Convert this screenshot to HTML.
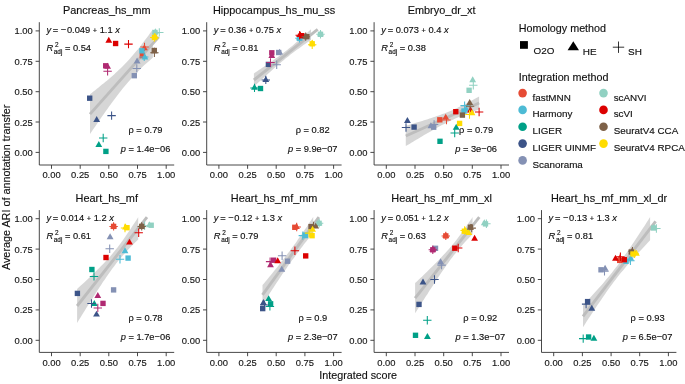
<!DOCTYPE html>
<html><head><meta charset="utf-8"><title>chart</title>
<style>
html,body{margin:0;padding:0;background:#fff;}
body{width:685px;height:384px;overflow:hidden;}
svg{display:block;will-change:transform;font-family:"Liberation Sans",sans-serif;fill:#1a1a1a;}
text{stroke:#111;stroke-width:0.15px;}
.tk{font-size:9.4px;fill:#1a1a1a;}
.ti{font-size:10.75px;fill:#111;}
.pt{font-size:10.9px;fill:#111;}
.an{font-size:9.3px;fill:#111;}
.ax{stroke:#333;stroke-width:0.9;fill:none;}
.lg{font-size:9.85px;fill:#111;}
</style></head><body>
<svg width="685" height="384" viewBox="0 0 685 384">
<rect width="685" height="384" fill="#fff"/>
<g><!-- Pancreas_hs_mm -->
<path d="M90.0 94.2L91.7 92.9L93.4 91.5L95.2 90.2L96.9 88.8L98.6 87.4L100.3 86.0L102.0 84.6L103.8 83.2L105.5 81.8L107.2 80.4L108.9 78.9L110.6 77.4L112.4 75.9L114.1 74.4L115.8 72.8L117.5 71.2L119.2 69.6L121.0 67.9L122.7 66.2L124.4 64.5L126.1 62.7L127.8 60.9L129.6 59.0L131.3 57.1L133.0 55.1L134.7 53.1L136.4 51.0L138.2 48.9L139.9 46.7L141.6 44.6L143.3 42.3L145.0 40.1L146.8 37.8L148.5 35.5L150.2 33.1L151.9 30.7L152.9 29.3L152.9 57.5L151.9 58.4L150.2 59.9L148.5 61.4L146.8 63.0L145.0 64.5L143.3 66.1L141.6 67.8L139.9 69.4L138.2 71.2L136.4 72.9L134.7 74.7L133.0 76.6L131.3 78.4L129.6 80.4L127.8 82.4L126.1 84.4L124.4 86.5L122.7 88.6L121.0 90.8L119.2 93.0L117.5 95.2L115.8 97.5L114.1 99.8L112.4 102.1L110.6 104.4L108.9 106.8L107.2 109.2L105.5 111.6L103.8 114.1L102.0 116.5L100.3 119.0L98.6 121.5L96.9 124.0L95.2 126.5L93.4 129.0L91.7 131.5L90.0 134.0Z" fill="#999" fill-opacity="0.4"/>
<path d="M90.0 114.1L158.8 36.9" stroke="#BDBDBD" stroke-width="2.9" fill="none"/>
<rect x="139.62" y="52.92" width="5.36" height="5.36" fill="#E64B35"/>
<path d="M144.40 44.35L147.82 50.27L140.98 50.27Z" fill="#E64B35"/>
<path d="M140.30 46.90H148.70M144.50 42.70V51.10" stroke="#E64B35" stroke-width="1.05" fill="none"/>
<rect x="139.22" y="48.12" width="5.36" height="5.36" fill="#4DBBD5"/>
<path d="M144.90 53.45L148.32 59.38L141.48 59.38Z" fill="#4DBBD5"/>
<path d="M140.00 56.90H148.40M144.20 52.70V61.10" stroke="#4DBBD5" stroke-width="1.05" fill="none"/>
<path d="M99.00 138.00H107.40M103.20 133.80V142.20" stroke="#00A087" stroke-width="1.05" fill="none"/>
<path d="M98.80 141.05L102.22 146.97L95.38 146.97Z" fill="#00A087"/>
<rect x="103.22" y="148.72" width="5.36" height="5.36" fill="#00A087"/>
<rect x="87.02" y="95.52" width="5.36" height="5.36" fill="#3C5488"/>
<path d="M96.70 115.95L100.12 121.88L93.28 121.88Z" fill="#3C5488"/>
<path d="M107.40 115.60H115.80M111.60 111.40V119.80" stroke="#3C5488" stroke-width="1.05" fill="none"/>
<path d="M137.10 57.55L140.52 63.48L133.68 63.48Z" fill="#8491B4"/>
<path d="M132.60 68.40H141.00M136.80 64.20V72.60" stroke="#8491B4" stroke-width="1.05" fill="none"/>
<rect x="131.62" y="73.02" width="5.36" height="5.36" fill="#8491B4"/>
<rect x="103.02" y="63.12" width="5.36" height="5.36" fill="#B02A72"/>
<path d="M107.60 62.85L111.02 68.77L104.18 68.77Z" fill="#B02A72"/>
<path d="M103.40 71.30H111.80M107.60 67.10V75.50" stroke="#B02A72" stroke-width="1.05" fill="none"/>
<rect x="152.32" y="29.82" width="5.36" height="5.36" fill="#91D1C2"/>
<path d="M155.40 28.15L158.82 34.08L151.98 34.08Z" fill="#91D1C2"/>
<path d="M155.10 32.40H163.50M159.30 28.20V36.60" stroke="#91D1C2" stroke-width="1.05" fill="none"/>
<path d="M108.80 36.85L112.22 42.77L105.38 42.77Z" fill="#DC0000"/>
<rect x="112.92" y="40.82" width="5.36" height="5.36" fill="#DC0000"/>
<path d="M124.30 44.10H132.70M128.50 39.90V48.30" stroke="#DC0000" stroke-width="1.05" fill="none"/>
<rect x="151.62" y="47.82" width="5.36" height="5.36" fill="#7E6148"/>
<path d="M154.40 47.35L157.82 53.27L150.98 53.27Z" fill="#7E6148"/>
<path d="M150.20 52.80H158.60M154.40 48.60V57.00" stroke="#7E6148" stroke-width="1.05" fill="none"/>
<rect x="151.82" y="34.82" width="5.36" height="5.36" fill="#FFDC00"/>
<path d="M155.00 32.85L158.42 38.77L151.58 38.77Z" fill="#FFDC00"/>
<path d="M150.10 37.50H158.50M154.30 33.30V41.70" stroke="#FFDC00" stroke-width="1.05" fill="none"/>
<path class="ax" d="M39.3 22.2V165.0H174.2"/>
<path class="ax" d="M35.6 152.4H39.3M51.5 165.0V168.8M35.6 122.0H39.3M80.2 165.0V168.8M35.6 91.7H39.3M108.8 165.0V168.8M35.6 61.3H39.3M137.5 165.0V168.8M35.6 30.9H39.3M166.2 165.0V168.8"/>
<text class="tk" x="32.7" y="156" text-anchor="end">0.00</text>
<text class="tk" x="51.5" y="178" text-anchor="middle">0.00</text>
<text class="tk" x="32.7" y="126" text-anchor="end">0.25</text>
<text class="tk" x="80.2" y="178" text-anchor="middle">0.25</text>
<text class="tk" x="32.7" y="95" text-anchor="end">0.50</text>
<text class="tk" x="108.8" y="178" text-anchor="middle">0.50</text>
<text class="tk" x="32.7" y="65" text-anchor="end">0.75</text>
<text class="tk" x="137.5" y="178" text-anchor="middle">0.75</text>
<text class="tk" x="32.7" y="34" text-anchor="end">1.00</text>
<text class="tk" x="166.2" y="178" text-anchor="middle">1.00</text>
<text class="pt" x="106.8" y="14.3" text-anchor="middle">Pancreas_hs_mm</text>
<text class="an" x="46.4" y="33.4"><tspan font-style="italic">y</tspan><tspan dx="-0.8"> = </tspan>−<tspan dx="0.6">0.049</tspan> <tspan font-size="7.4" dy="-0.5">+</tspan><tspan dy="0.5"> 1.1 </tspan><tspan font-style="italic">x</tspan></text>
<text class="an" x="46.4" y="51.2"><tspan font-style="italic">R</tspan><tspan font-size="6.4" dy="-4.4" dx="1.8">2</tspan><tspan font-size="6.4" dy="7.4" dx="-4.7">adj</tspan><tspan dy="-3.0" dx="0"> = 0.54</tspan></text>
<text class="an" x="145.5" y="133" text-anchor="middle">ρ = 0.79</text>
<text class="an" x="145.5" y="152" text-anchor="middle"><tspan font-style="italic">p</tspan> = 1.4e−06</text>
</g>
<g><!-- Hippocampus_hs_mu_ss -->
<path d="M253.9 73.4L255.6 72.3L257.2 71.2L258.9 70.1L260.6 69.0L262.2 67.8L263.9 66.7L265.6 65.6L267.2 64.5L268.9 63.3L270.6 62.2L272.2 61.0L273.9 59.8L275.5 58.6L277.2 57.5L278.9 56.2L280.5 55.0L282.2 53.8L283.9 52.5L285.5 51.2L287.2 49.9L288.9 48.6L290.5 47.2L292.2 45.9L293.9 44.5L295.5 43.1L297.2 41.6L298.9 40.2L300.5 38.8L302.2 37.3L303.8 35.8L305.5 34.3L307.2 32.8L308.8 31.3L310.5 29.8L311.0 29.3L311.0 39.9L310.5 40.3L308.8 41.4L307.2 42.5L305.5 43.7L303.8 44.8L302.2 46.0L300.5 47.2L298.9 48.4L297.2 49.6L295.5 50.8L293.9 52.0L292.2 53.3L290.5 54.6L288.9 55.9L287.2 57.2L285.5 58.5L283.9 59.9L282.2 61.3L280.5 62.7L278.9 64.1L277.2 65.5L275.5 67.0L273.9 68.4L272.2 69.9L270.6 71.4L268.9 72.9L267.2 74.4L265.6 75.9L263.9 77.4L262.2 78.9L260.6 80.5L258.9 82.0L257.2 83.6L255.6 85.1L253.9 86.6Z" fill="#999" fill-opacity="0.4"/>
<path d="M253.9 80.0L317.7 29.3" stroke="#BDBDBD" stroke-width="2.9" fill="none"/>
<rect x="297.82" y="33.62" width="5.36" height="5.36" fill="#E64B35"/>
<path d="M300.50 32.35L303.92 38.27L297.08 38.27Z" fill="#E64B35"/>
<path d="M296.30 36.30H304.70M300.50 32.10V40.50" stroke="#E64B35" stroke-width="1.05" fill="none"/>
<rect x="296.82" y="35.52" width="5.36" height="5.36" fill="#4DBBD5"/>
<path d="M299.50 34.25L302.92 40.18L296.08 40.18Z" fill="#4DBBD5"/>
<path d="M295.30 38.20H303.70M299.50 34.00V42.40" stroke="#4DBBD5" stroke-width="1.05" fill="none"/>
<path d="M254.50 83.75L257.92 89.67L251.08 89.67Z" fill="#00A087"/>
<path d="M250.30 87.90H258.70M254.50 83.70V92.10" stroke="#00A087" stroke-width="1.05" fill="none"/>
<rect x="257.82" y="85.82" width="5.36" height="5.36" fill="#00A087"/>
<rect x="265.72" y="61.72" width="5.36" height="5.36" fill="#3C5488"/>
<path d="M265.80 75.95L269.22 81.88L262.38 81.88Z" fill="#3C5488"/>
<path d="M261.60 79.90H270.00M265.80 75.70V84.10" stroke="#3C5488" stroke-width="1.05" fill="none"/>
<rect x="276.02" y="49.82" width="5.36" height="5.36" fill="#8491B4"/>
<path d="M279.60 48.65L283.02 54.58L276.18 54.58Z" fill="#8491B4"/>
<path d="M272.50 64.80H280.90M276.70 60.60V69.00" stroke="#8491B4" stroke-width="1.05" fill="none"/>
<rect x="269.12" y="50.12" width="5.36" height="5.36" fill="#B02A72"/>
<path d="M271.80 52.05L275.22 57.98L268.38 57.98Z" fill="#B02A72"/>
<path d="M266.30 62.50H274.70M270.50 58.30V66.70" stroke="#B02A72" stroke-width="1.05" fill="none"/>
<rect x="317.82" y="31.62" width="5.36" height="5.36" fill="#91D1C2"/>
<path d="M320.50 30.35L323.92 36.27L317.08 36.27Z" fill="#91D1C2"/>
<path d="M316.30 34.30H324.70M320.50 30.10V38.50" stroke="#91D1C2" stroke-width="1.05" fill="none"/>
<rect x="299.12" y="33.02" width="5.36" height="5.36" fill="#DC0000"/>
<path d="M299.90 31.15L303.32 37.08L296.48 37.08Z" fill="#DC0000"/>
<path d="M295.50 35.20H303.90M299.70 31.00V39.40" stroke="#DC0000" stroke-width="1.05" fill="none"/>
<rect x="304.12" y="33.97" width="5.36" height="5.36" fill="#7E6148"/>
<path d="M305.90 32.75L309.32 38.68L302.48 38.68Z" fill="#7E6148"/>
<path d="M301.50 36.65H309.90M305.70 32.45V40.85" stroke="#7E6148" stroke-width="1.05" fill="none"/>
<rect x="309.52" y="41.12" width="5.36" height="5.36" fill="#FFDC00"/>
<path d="M312.20 39.55L315.62 45.48L308.78 45.48Z" fill="#FFDC00"/>
<path d="M308.00 44.80H316.40M312.20 40.60V49.00" stroke="#FFDC00" stroke-width="1.05" fill="none"/>
<path class="ax" d="M206.7 22.2V165.0H341.6"/>
<path class="ax" d="M203.0 152.4H206.7M218.9 165.0V168.8M203.0 122.0H206.7M247.6 165.0V168.8M203.0 91.7H206.7M276.2 165.0V168.8M203.0 61.3H206.7M304.9 165.0V168.8M203.0 30.9H206.7M333.6 165.0V168.8"/>
<text class="tk" x="200.1" y="156" text-anchor="end">0.00</text>
<text class="tk" x="218.9" y="178" text-anchor="middle">0.00</text>
<text class="tk" x="200.1" y="126" text-anchor="end">0.25</text>
<text class="tk" x="247.6" y="178" text-anchor="middle">0.25</text>
<text class="tk" x="200.1" y="95" text-anchor="end">0.50</text>
<text class="tk" x="276.2" y="178" text-anchor="middle">0.50</text>
<text class="tk" x="200.1" y="65" text-anchor="end">0.75</text>
<text class="tk" x="304.9" y="178" text-anchor="middle">0.75</text>
<text class="tk" x="200.1" y="34" text-anchor="end">1.00</text>
<text class="tk" x="333.6" y="178" text-anchor="middle">1.00</text>
<text class="pt" x="274.1" y="14.3" text-anchor="middle">Hippocampus_hs_mu_ss</text>
<text class="an" x="213.8" y="33.4"><tspan font-style="italic">y</tspan><tspan dx="-0.8"> = </tspan>0.36 <tspan font-size="7.4" dy="-0.5">+</tspan><tspan dy="0.5"> 0.75 </tspan><tspan font-style="italic">x</tspan></text>
<text class="an" x="213.8" y="51.2"><tspan font-style="italic">R</tspan><tspan font-size="6.4" dy="-4.4" dx="1.8">2</tspan><tspan font-size="6.4" dy="7.4" dx="-4.7">adj</tspan><tspan dy="-3.0" dx="0"> = 0.81</tspan></text>
<text class="an" x="312.7" y="133" text-anchor="middle">ρ = 0.82</text>
<text class="an" x="312.7" y="152" text-anchor="middle"><tspan font-style="italic">p</tspan> = 9.9e−07</text>
</g>
<g><!-- Embryo_dr_xt -->
<path d="M405.8 125.8L407.6 125.3L409.5 124.8L411.3 124.2L413.1 123.7L415.0 123.1L416.8 122.6L418.6 122.0L420.5 121.5L422.3 120.9L424.1 120.3L426.0 119.7L427.8 119.2L429.6 118.6L431.5 118.0L433.3 117.3L435.1 116.7L437.0 116.1L438.8 115.4L440.6 114.8L442.4 114.1L444.3 113.4L446.1 112.7L447.9 112.0L449.8 111.2L451.6 110.4L453.4 109.6L455.3 108.8L457.1 108.0L458.9 107.1L460.8 106.3L462.6 105.3L464.4 104.4L466.3 103.5L468.1 102.5L469.9 101.5L471.8 100.6L473.6 99.6L475.4 98.5L477.3 97.5L479.1 96.5L479.1 109.5L477.3 110.1L475.4 110.7L473.6 111.3L471.8 112.0L469.9 112.6L468.1 113.3L466.3 114.0L464.4 114.7L462.6 115.4L460.8 116.2L458.9 117.0L457.1 117.7L455.3 118.6L453.4 119.4L451.6 120.2L449.8 121.1L447.9 122.0L446.1 122.9L444.3 123.9L442.4 124.8L440.6 125.8L438.8 126.8L437.0 127.8L435.1 128.8L433.3 129.8L431.5 130.9L429.6 131.9L427.8 133.0L426.0 134.0L424.1 135.1L422.3 136.2L420.5 137.3L418.6 138.4L416.8 139.5L415.0 140.6L413.1 141.7L411.3 142.8L409.5 143.9L407.6 145.0L405.8 146.1Z" fill="#999" fill-opacity="0.4"/>
<path d="M405.8 136.0L479.1 103.0" stroke="#BDBDBD" stroke-width="2.9" fill="none"/>
<rect x="437.12" y="117.12" width="5.36" height="5.36" fill="#E64B35"/>
<path d="M445.70 113.65L449.12 119.57L442.28 119.57Z" fill="#E64B35"/>
<path d="M442.30 120.00H450.70M446.50 115.80V124.20" stroke="#E64B35" stroke-width="1.05" fill="none"/>
<path d="M460.40 105.60H468.80M464.60 101.40V109.80" stroke="#4DBBD5" stroke-width="1.05" fill="none"/>
<path d="M466.20 105.55L469.62 111.47L462.78 111.47Z" fill="#4DBBD5"/>
<rect x="461.32" y="108.32" width="5.36" height="5.36" fill="#4DBBD5"/>
<path d="M456.20 123.75L459.62 129.68L452.78 129.68Z" fill="#00A087"/>
<path d="M450.50 133.00H458.90M454.70 128.80V137.20" stroke="#00A087" stroke-width="1.05" fill="none"/>
<rect x="437.32" y="138.62" width="5.36" height="5.36" fill="#00A087"/>
<path d="M407.40 117.05L410.82 122.97L403.98 122.97Z" fill="#3C5488"/>
<path d="M401.80 127.50H410.20M406.00 123.30V131.70" stroke="#3C5488" stroke-width="1.05" fill="none"/>
<rect x="411.42" y="124.42" width="5.36" height="5.36" fill="#3C5488"/>
<rect x="431.02" y="124.52" width="5.36" height="5.36" fill="#8491B4"/>
<path d="M430.90 122.35L434.32 128.28L427.48 128.28Z" fill="#8491B4"/>
<path d="M429.90 124.40H438.30M434.10 120.20V128.60" stroke="#8491B4" stroke-width="1.05" fill="none"/>
<path d="M472.70 76.35L476.12 82.27L469.28 82.27Z" fill="#91D1C2"/>
<path d="M469.10 85.30H477.50M473.30 81.10V89.50" stroke="#91D1C2" stroke-width="1.05" fill="none"/>
<rect x="466.42" y="87.62" width="5.36" height="5.36" fill="#91D1C2"/>
<rect x="453.12" y="109.02" width="5.36" height="5.36" fill="#DC0000"/>
<path d="M470.50 106.55L473.92 112.47L467.08 112.47Z" fill="#DC0000"/>
<path d="M474.90 112.00H483.30M479.10 107.80V116.20" stroke="#DC0000" stroke-width="1.05" fill="none"/>
<path d="M469.70 98.95L473.12 104.88L466.28 104.88Z" fill="#7E6148"/>
<path d="M465.80 106.20H474.20M470.00 102.00V110.40" stroke="#7E6148" stroke-width="1.05" fill="none"/>
<rect x="459.72" y="112.42" width="5.36" height="5.36" fill="#7E6148"/>
<path d="M472.00 109.25L475.42 115.17L468.58 115.17Z" fill="#FFDC00"/>
<path d="M465.30 114.50H473.70M469.50 110.30V118.70" stroke="#FFDC00" stroke-width="1.05" fill="none"/>
<rect x="456.92" y="120.72" width="5.36" height="5.36" fill="#FFDC00"/>
<path class="ax" d="M374.1 22.2V165.0H509.0"/>
<path class="ax" d="M370.4 152.4H374.1M386.3 165.0V168.8M370.4 122.0H374.1M415.0 165.0V168.8M370.4 91.7H374.1M443.7 165.0V168.8M370.4 61.3H374.1M472.3 165.0V168.8M370.4 30.9H374.1M501.0 165.0V168.8"/>
<text class="tk" x="367.5" y="156" text-anchor="end">0.00</text>
<text class="tk" x="386.3" y="178" text-anchor="middle">0.00</text>
<text class="tk" x="367.5" y="126" text-anchor="end">0.25</text>
<text class="tk" x="415.0" y="178" text-anchor="middle">0.25</text>
<text class="tk" x="367.5" y="95" text-anchor="end">0.50</text>
<text class="tk" x="443.7" y="178" text-anchor="middle">0.50</text>
<text class="tk" x="367.5" y="65" text-anchor="end">0.75</text>
<text class="tk" x="472.3" y="178" text-anchor="middle">0.75</text>
<text class="tk" x="367.5" y="34" text-anchor="end">1.00</text>
<text class="tk" x="501.0" y="178" text-anchor="middle">1.00</text>
<text class="pt" x="441.6" y="14.3" text-anchor="middle">Embryo_dr_xt</text>
<text class="an" x="381.2" y="33.4"><tspan font-style="italic">y</tspan><tspan dx="-0.8"> = </tspan>0.073 <tspan font-size="7.4" dy="-0.5">+</tspan><tspan dy="0.5"> 0.4 </tspan><tspan font-style="italic">x</tspan></text>
<text class="an" x="381.2" y="51.2"><tspan font-style="italic">R</tspan><tspan font-size="6.4" dy="-4.4" dx="1.8">2</tspan><tspan font-size="6.4" dy="7.4" dx="-4.7">adj</tspan><tspan dy="-3.0" dx="0"> = 0.38</tspan></text>
<text class="an" x="476.1" y="133" text-anchor="middle">ρ = 0.79</text>
<text class="an" x="476.1" y="152" text-anchor="middle"><tspan font-style="italic">p</tspan> = 3e−06</text>
</g>
<g><!-- Heart_hs_mf -->
<path d="M77.1 289.0L78.9 287.3L80.8 285.6L82.6 283.9L84.5 282.2L86.3 280.5L88.2 278.7L90.0 277.0L91.9 275.2L93.7 273.5L95.5 271.7L97.4 269.8L99.2 268.0L101.1 266.1L102.9 264.2L104.8 262.3L106.6 260.3L108.5 258.3L110.3 256.2L112.2 254.0L114.0 251.8L115.8 249.5L117.7 247.2L119.5 244.7L121.4 242.2L123.2 239.7L125.1 237.0L126.9 234.3L128.8 231.6L130.6 228.9L132.4 226.0L134.3 223.2L136.1 220.4L138.0 217.5L138.2 217.1L138.2 239.5L138.0 239.7L136.1 241.5L134.3 243.3L132.4 245.2L130.6 247.1L128.8 249.0L126.9 251.0L125.1 253.0L123.2 255.0L121.4 257.2L119.5 259.4L117.7 261.6L115.8 264.0L114.0 266.4L112.2 268.8L110.3 271.4L108.5 274.0L106.6 276.7L104.8 279.4L102.9 282.1L101.1 284.9L99.2 287.7L97.4 290.6L95.5 293.5L93.7 296.4L91.9 299.3L90.0 302.2L88.2 305.1L86.3 308.1L84.5 311.1L82.6 314.0L80.8 317.0L78.9 320.0L77.1 323.0Z" fill="#999" fill-opacity="0.4"/>
<path d="M77.1 306.0L147.0 217.1" stroke="#BDBDBD" stroke-width="2.9" fill="none"/>
<rect x="110.92" y="223.72" width="5.36" height="5.36" fill="#E64B35"/>
<path d="M113.60 222.45L117.02 228.38L110.18 228.38Z" fill="#E64B35"/>
<path d="M109.40 226.40H117.80M113.60 222.20V230.60" stroke="#E64B35" stroke-width="1.05" fill="none"/>
<path d="M125.00 247.25L128.42 253.17L121.58 253.17Z" fill="#4DBBD5"/>
<path d="M115.80 259.30H124.20M120.00 255.10V263.50" stroke="#4DBBD5" stroke-width="1.05" fill="none"/>
<rect x="125.42" y="255.42" width="5.36" height="5.36" fill="#4DBBD5"/>
<rect x="89.22" y="266.82" width="5.36" height="5.36" fill="#00A087"/>
<path d="M89.80 276.40H98.20M94.00 272.20V280.60" stroke="#00A087" stroke-width="1.05" fill="none"/>
<path d="M94.30 299.95L97.72 305.88L90.88 305.88Z" fill="#00A087"/>
<rect x="74.72" y="290.72" width="5.36" height="5.36" fill="#3C5488"/>
<path d="M87.30 303.50H95.70M91.50 299.30V307.70" stroke="#3C5488" stroke-width="1.05" fill="none"/>
<path d="M96.50 310.65L99.92 316.58L93.08 316.58Z" fill="#3C5488"/>
<path d="M110.10 233.25L113.52 239.17L106.68 239.17Z" fill="#8491B4"/>
<path d="M105.50 248.80H113.90M109.70 244.60V253.00" stroke="#8491B4" stroke-width="1.05" fill="none"/>
<rect x="110.92" y="287.22" width="5.36" height="5.36" fill="#8491B4"/>
<path d="M97.80 292.05L101.22 297.98L94.38 297.98Z" fill="#B02A72"/>
<rect x="100.32" y="300.72" width="5.36" height="5.36" fill="#B02A72"/>
<path d="M93.60 307.90H102.00M97.80 303.70V312.10" stroke="#B02A72" stroke-width="1.05" fill="none"/>
<rect x="148.52" y="222.57" width="5.36" height="5.36" fill="#91D1C2"/>
<path d="M149.40 221.35L152.82 227.28L145.98 227.28Z" fill="#91D1C2"/>
<path d="M140.40 225.80H148.80M144.60 221.60V230.00" stroke="#91D1C2" stroke-width="1.05" fill="none"/>
<path d="M134.50 232.70H142.90M138.70 228.50V236.90" stroke="#DC0000" stroke-width="1.05" fill="none"/>
<path d="M129.50 238.65L132.92 244.57L126.08 244.57Z" fill="#DC0000"/>
<rect x="103.32" y="254.82" width="5.36" height="5.36" fill="#DC0000"/>
<rect x="139.02" y="223.72" width="5.36" height="5.36" fill="#7E6148"/>
<path d="M141.70 222.45L145.12 228.38L138.28 228.38Z" fill="#7E6148"/>
<path d="M137.50 226.40H145.90M141.70 222.20V230.60" stroke="#7E6148" stroke-width="1.05" fill="none"/>
<rect x="124.32" y="225.02" width="5.36" height="5.36" fill="#FFDC00"/>
<path d="M125.50 223.55L128.92 229.47L122.08 229.47Z" fill="#FFDC00"/>
<path d="M120.80 228.00H129.20M125.00 223.80V232.20" stroke="#FFDC00" stroke-width="1.05" fill="none"/>
<path class="ax" d="M39.3 210.1V352.4H174.2"/>
<path class="ax" d="M35.6 340.3H39.3M51.5 352.4V356.2M35.6 309.9H39.3M80.2 352.4V356.2M35.6 279.5H39.3M108.8 352.4V356.2M35.6 249.1H39.3M137.5 352.4V356.2M35.6 218.7H39.3M166.2 352.4V356.2"/>
<text class="tk" x="32.7" y="344" text-anchor="end">0.00</text>
<text class="tk" x="51.5" y="366" text-anchor="middle">0.00</text>
<text class="tk" x="32.7" y="313" text-anchor="end">0.25</text>
<text class="tk" x="80.2" y="366" text-anchor="middle">0.25</text>
<text class="tk" x="32.7" y="283" text-anchor="end">0.50</text>
<text class="tk" x="108.8" y="366" text-anchor="middle">0.50</text>
<text class="tk" x="32.7" y="253" text-anchor="end">0.75</text>
<text class="tk" x="137.5" y="366" text-anchor="middle">0.75</text>
<text class="tk" x="32.7" y="222" text-anchor="end">1.00</text>
<text class="tk" x="166.2" y="366" text-anchor="middle">1.00</text>
<text class="pt" x="106.8" y="202.2" text-anchor="middle">Heart_hs_mf</text>
<text class="an" x="46.4" y="221.2"><tspan font-style="italic">y</tspan><tspan dx="-0.8"> = </tspan>0.014 <tspan font-size="7.4" dy="-0.5">+</tspan><tspan dy="0.5"> 1.2 </tspan><tspan font-style="italic">x</tspan></text>
<text class="an" x="46.4" y="239.2"><tspan font-style="italic">R</tspan><tspan font-size="6.4" dy="-4.4" dx="1.8">2</tspan><tspan font-size="6.4" dy="7.4" dx="-4.7">adj</tspan><tspan dy="-3.0" dx="0"> = 0.61</tspan></text>
<text class="an" x="145.5" y="321" text-anchor="middle">ρ = 0.78</text>
<text class="an" x="145.5" y="340" text-anchor="middle"><tspan font-style="italic">p</tspan> = 1.7e−06</text>
</g>
<g><!-- Heart_hs_mf_mm -->
<path d="M262.5 285.1L263.9 283.4L265.3 281.7L266.8 280.0L268.2 278.2L269.6 276.5L271.1 274.8L272.5 273.0L273.9 271.3L275.3 269.5L276.8 267.7L278.2 265.9L279.6 264.1L281.0 262.3L282.4 260.5L283.9 258.7L285.3 256.8L286.7 254.9L288.1 253.1L289.6 251.2L291.0 249.2L292.4 247.3L293.9 245.3L295.3 243.4L296.7 241.4L298.1 239.3L299.5 237.3L301.0 235.3L302.4 233.2L303.8 231.1L305.2 229.0L306.7 226.9L308.1 224.8L309.5 222.6L310.9 220.5L312.4 218.3L313.2 217.1L313.2 232.8L312.4 233.8L310.9 235.6L309.5 237.3L308.1 239.1L306.7 240.9L305.2 242.8L303.8 244.6L302.4 246.4L301.0 248.3L299.5 250.2L298.1 252.1L296.7 254.0L295.3 255.9L293.9 257.9L292.4 259.8L291.0 261.8L289.6 263.8L288.1 265.8L286.7 267.9L285.3 269.9L283.9 272.0L282.4 274.1L281.0 276.2L279.6 278.3L278.2 280.5L276.8 282.6L275.3 284.7L273.9 286.9L272.5 289.1L271.1 291.3L269.6 293.5L268.2 295.7L266.8 297.9L265.3 300.1L263.9 302.3L262.5 304.5Z" fill="#999" fill-opacity="0.4"/>
<path d="M262.5 294.8L318.9 217.1" stroke="#BDBDBD" stroke-width="2.9" fill="none"/>
<rect x="292.12" y="224.62" width="5.36" height="5.36" fill="#E64B35"/>
<path d="M296.50 223.05L299.92 228.97L293.08 228.97Z" fill="#E64B35"/>
<path d="M292.50 227.00H300.90M296.70 222.80V231.20" stroke="#E64B35" stroke-width="1.05" fill="none"/>
<rect x="302.62" y="232.42" width="5.36" height="5.36" fill="#4DBBD5"/>
<path d="M298.60 235.60H307.00M302.80 231.40V239.80" stroke="#4DBBD5" stroke-width="1.05" fill="none"/>
<path d="M305.00 232.35L308.42 238.28L301.58 238.28Z" fill="#4DBBD5"/>
<path d="M268.60 295.15L272.02 301.08L265.18 301.08Z" fill="#00A087"/>
<rect x="267.92" y="301.12" width="5.36" height="5.36" fill="#00A087"/>
<path d="M265.70 306.40H274.10M269.90 302.20V310.60" stroke="#00A087" stroke-width="1.05" fill="none"/>
<path d="M263.40 299.05L266.82 304.98L259.98 304.98Z" fill="#3C5488"/>
<rect x="260.02" y="305.92" width="5.36" height="5.36" fill="#3C5488"/>
<path d="M260.30 305.00H268.70M264.50 300.80V309.20" stroke="#3C5488" stroke-width="1.05" fill="none"/>
<path d="M277.90 255.70H286.30M282.10 251.50V259.90" stroke="#8491B4" stroke-width="1.05" fill="none"/>
<rect x="284.92" y="258.52" width="5.36" height="5.36" fill="#8491B4"/>
<path d="M281.80 265.85L285.22 271.78L278.38 271.78Z" fill="#8491B4"/>
<rect x="270.92" y="257.52" width="5.36" height="5.36" fill="#B02A72"/>
<path d="M270.50 261.25L273.92 267.18L267.08 267.18Z" fill="#B02A72"/>
<path d="M265.90 261.60H274.30M270.10 257.40V265.80" stroke="#B02A72" stroke-width="1.05" fill="none"/>
<rect x="316.42" y="220.62" width="5.36" height="5.36" fill="#91D1C2"/>
<path d="M319.10 219.35L322.52 225.28L315.68 225.28Z" fill="#91D1C2"/>
<path d="M314.90 223.30H323.30M319.10 219.10V227.50" stroke="#91D1C2" stroke-width="1.05" fill="none"/>
<path d="M290.70 250.70H299.10M294.90 246.50V254.90" stroke="#DC0000" stroke-width="1.05" fill="none"/>
<rect x="303.02" y="253.22" width="5.36" height="5.36" fill="#DC0000"/>
<path d="M277.70 257.25L281.12 263.18L274.28 263.18Z" fill="#DC0000"/>
<rect x="308.32" y="223.92" width="5.36" height="5.36" fill="#7E6148"/>
<path d="M315.70 222.65L319.12 228.57L312.28 228.57Z" fill="#7E6148"/>
<path d="M309.30 226.00H317.70M313.50 221.80V230.20" stroke="#7E6148" stroke-width="1.05" fill="none"/>
<path d="M312.60 225.85L316.02 231.78L309.18 231.78Z" fill="#FFDC00"/>
<rect x="309.42" y="233.02" width="5.36" height="5.36" fill="#FFDC00"/>
<path d="M304.90 233.10H313.30M309.10 228.90V237.30" stroke="#FFDC00" stroke-width="1.05" fill="none"/>
<path class="ax" d="M206.7 210.1V352.4H341.6"/>
<path class="ax" d="M203.0 340.3H206.7M218.9 352.4V356.2M203.0 309.9H206.7M247.6 352.4V356.2M203.0 279.5H206.7M276.2 352.4V356.2M203.0 249.1H206.7M304.9 352.4V356.2M203.0 218.7H206.7M333.6 352.4V356.2"/>
<text class="tk" x="200.1" y="344" text-anchor="end">0.00</text>
<text class="tk" x="218.9" y="366" text-anchor="middle">0.00</text>
<text class="tk" x="200.1" y="313" text-anchor="end">0.25</text>
<text class="tk" x="247.6" y="366" text-anchor="middle">0.25</text>
<text class="tk" x="200.1" y="283" text-anchor="end">0.50</text>
<text class="tk" x="276.2" y="366" text-anchor="middle">0.50</text>
<text class="tk" x="200.1" y="253" text-anchor="end">0.75</text>
<text class="tk" x="304.9" y="366" text-anchor="middle">0.75</text>
<text class="tk" x="200.1" y="222" text-anchor="end">1.00</text>
<text class="tk" x="333.6" y="366" text-anchor="middle">1.00</text>
<text class="pt" x="274.1" y="202.2" text-anchor="middle">Heart_hs_mf_mm</text>
<text class="an" x="213.8" y="221.2"><tspan font-style="italic">y</tspan><tspan dx="-0.8"> = </tspan>−<tspan dx="0.6">0.12</tspan> <tspan font-size="7.4" dy="-0.5">+</tspan><tspan dy="0.5"> 1.3 </tspan><tspan font-style="italic">x</tspan></text>
<text class="an" x="213.8" y="239.2"><tspan font-style="italic">R</tspan><tspan font-size="6.4" dy="-4.4" dx="1.8">2</tspan><tspan font-size="6.4" dy="7.4" dx="-4.7">adj</tspan><tspan dy="-3.0" dx="0"> = 0.79</tspan></text>
<text class="an" x="312.9" y="321" text-anchor="middle">ρ = 0.9</text>
<text class="an" x="312.9" y="340" text-anchor="middle"><tspan font-style="italic">p</tspan> = 2.3e−07</text>
</g>
<g><!-- Heart_hs_mf_mm_xl -->
<path d="M415.1 283.1L416.9 281.4L418.6 279.8L420.4 278.1L422.2 276.4L423.9 274.7L425.7 273.0L427.5 271.3L429.2 269.5L431.0 267.8L432.8 266.0L434.5 264.3L436.3 262.5L438.1 260.7L439.8 258.9L441.6 257.0L443.4 255.1L445.1 253.2L446.9 251.3L448.7 249.3L450.4 247.2L452.2 245.1L454.0 243.0L455.8 240.7L457.5 238.4L459.3 236.1L461.1 233.7L462.8 231.2L464.6 228.7L466.4 226.2L468.1 223.6L469.9 221.0L471.7 218.4L472.5 217.1L472.5 234.2L471.7 235.0L469.9 236.9L468.1 238.7L466.4 240.6L464.6 242.5L462.8 244.5L461.1 246.5L459.3 248.6L457.5 250.7L455.8 252.9L454.0 255.1L452.2 257.4L450.4 259.8L448.7 262.2L446.9 264.7L445.1 267.2L443.4 269.8L441.6 272.3L439.8 275.0L438.1 277.6L436.3 280.3L434.5 283.0L432.8 285.7L431.0 288.4L429.2 291.1L427.5 293.9L425.7 296.6L423.9 299.4L422.2 302.1L420.4 304.9L418.6 307.7L416.9 310.5L415.1 313.3Z" fill="#999" fill-opacity="0.4"/>
<path d="M415.1 298.2L479.3 217.1" stroke="#BDBDBD" stroke-width="2.9" fill="none"/>
<rect x="443.12" y="233.22" width="5.36" height="5.36" fill="#E64B35"/>
<path d="M445.80 231.95L449.22 237.88L442.38 237.88Z" fill="#E64B35"/>
<path d="M441.60 235.90H450.00M445.80 231.70V240.10" stroke="#E64B35" stroke-width="1.05" fill="none"/>
<rect x="464.62" y="228.72" width="5.36" height="5.36" fill="#4DBBD5"/>
<path d="M423.10 320.30H431.50M427.30 316.10V324.50" stroke="#00A087" stroke-width="1.05" fill="none"/>
<rect x="412.82" y="332.62" width="5.36" height="5.36" fill="#00A087"/>
<path d="M427.40 333.05L430.82 338.98L423.98 338.98Z" fill="#00A087"/>
<path d="M423.00 278.45L426.42 284.38L419.58 284.38Z" fill="#3C5488"/>
<path d="M430.30 279.50H438.70M434.50 275.30V283.70" stroke="#3C5488" stroke-width="1.05" fill="none"/>
<rect x="416.32" y="301.72" width="5.36" height="5.36" fill="#3C5488"/>
<rect x="432.82" y="245.62" width="5.36" height="5.36" fill="#8491B4"/>
<path d="M440.60 258.35L444.02 264.28L437.18 264.28Z" fill="#8491B4"/>
<path d="M437.40 265.10H445.80M441.60 260.90V269.30" stroke="#8491B4" stroke-width="1.05" fill="none"/>
<rect x="430.12" y="247.12" width="5.36" height="5.36" fill="#B02A72"/>
<path d="M432.80 245.85L436.22 251.78L429.38 251.78Z" fill="#B02A72"/>
<path d="M428.60 249.80H437.00M432.80 245.60V254.00" stroke="#B02A72" stroke-width="1.05" fill="none"/>
<rect x="482.82" y="221.22" width="5.36" height="5.36" fill="#91D1C2"/>
<path d="M484.30 219.35L487.72 225.28L480.88 225.28Z" fill="#91D1C2"/>
<path d="M482.20 223.70H490.60M486.40 219.50V227.90" stroke="#91D1C2" stroke-width="1.05" fill="none"/>
<path d="M474.60 234.85L478.02 240.78L471.18 240.78Z" fill="#DC0000"/>
<rect x="452.12" y="245.52" width="5.36" height="5.36" fill="#DC0000"/>
<path d="M454.00 248.00H462.40M458.20 243.80V252.20" stroke="#DC0000" stroke-width="1.05" fill="none"/>
<rect x="467.72" y="224.52" width="5.36" height="5.36" fill="#7E6148"/>
<path d="M470.60 223.85L474.02 229.78L467.18 229.78Z" fill="#7E6148"/>
<path d="M467.50 228.10H475.90M471.70 223.90V232.30" stroke="#7E6148" stroke-width="1.05" fill="none"/>
<rect x="461.72" y="228.52" width="5.36" height="5.36" fill="#FFDC00"/>
<path d="M465.00 226.65L468.42 232.57L461.58 232.57Z" fill="#FFDC00"/>
<path d="M460.45 230.40H468.85M464.65 226.20V234.60" stroke="#FFDC00" stroke-width="1.05" fill="none"/>
<path d="M468.90 229.15L472.32 235.07L465.48 235.07Z" fill="#FFDC00"/>
<path class="ax" d="M374.1 210.1V352.4H509.0"/>
<path class="ax" d="M370.4 340.3H374.1M386.3 352.4V356.2M370.4 309.9H374.1M415.0 352.4V356.2M370.4 279.5H374.1M443.7 352.4V356.2M370.4 249.1H374.1M472.3 352.4V356.2M370.4 218.7H374.1M501.0 352.4V356.2"/>
<text class="tk" x="367.5" y="344" text-anchor="end">0.00</text>
<text class="tk" x="386.3" y="366" text-anchor="middle">0.00</text>
<text class="tk" x="367.5" y="313" text-anchor="end">0.25</text>
<text class="tk" x="415.0" y="366" text-anchor="middle">0.25</text>
<text class="tk" x="367.5" y="283" text-anchor="end">0.50</text>
<text class="tk" x="443.7" y="366" text-anchor="middle">0.50</text>
<text class="tk" x="367.5" y="253" text-anchor="end">0.75</text>
<text class="tk" x="472.3" y="366" text-anchor="middle">0.75</text>
<text class="tk" x="367.5" y="222" text-anchor="end">1.00</text>
<text class="tk" x="501.0" y="366" text-anchor="middle">1.00</text>
<text class="pt" x="441.6" y="202.2" text-anchor="middle">Heart_hs_mf_mm_xl</text>
<text class="an" x="381.2" y="221.2"><tspan font-style="italic">y</tspan><tspan dx="-0.8"> = </tspan>0.051 <tspan font-size="7.4" dy="-0.5">+</tspan><tspan dy="0.5"> 1.2 </tspan><tspan font-style="italic">x</tspan></text>
<text class="an" x="381.2" y="239.2"><tspan font-style="italic">R</tspan><tspan font-size="6.4" dy="-4.4" dx="1.8">2</tspan><tspan font-size="6.4" dy="7.4" dx="-4.7">adj</tspan><tspan dy="-3.0" dx="0"> = 0.63</tspan></text>
<text class="an" x="480.3" y="321" text-anchor="middle">ρ = 0.92</text>
<text class="an" x="480.3" y="340" text-anchor="middle"><tspan font-style="italic">p</tspan> = 1.3e−07</text>
</g>
<g><!-- Heart_hs_mf_mm_xl_dr -->
<path d="M583.0 305.4L584.8 303.5L586.6 301.5L588.4 299.6L590.3 297.6L592.1 295.6L593.9 293.6L595.7 291.6L597.5 289.6L599.3 287.6L601.2 285.5L603.0 283.4L604.8 281.3L606.6 279.1L608.4 277.0L610.2 274.7L612.1 272.5L613.9 270.1L615.7 267.8L617.5 265.4L619.3 262.9L621.1 260.4L623.0 257.9L624.8 255.3L626.6 252.7L628.4 250.0L630.2 247.4L632.0 244.7L633.9 242.0L635.7 239.2L637.5 236.5L639.3 233.7L641.1 230.9L642.9 228.2L644.8 225.4L646.6 222.5L648.4 219.7L650.1 217.1L650.1 240.3L648.4 242.1L646.6 244.0L644.8 246.0L642.9 247.9L641.1 249.9L639.3 251.8L637.5 253.8L635.7 255.8L633.9 257.8L632.0 259.9L630.2 261.9L628.4 264.0L626.6 266.1L624.8 268.2L623.0 270.4L621.1 272.6L619.3 274.8L617.5 277.1L615.7 279.5L613.9 281.8L612.1 284.3L610.2 286.7L608.4 289.3L606.6 291.8L604.8 294.4L603.0 297.0L601.2 299.7L599.3 302.4L597.5 305.1L595.7 307.8L593.9 310.5L592.1 313.3L590.3 316.1L588.4 318.8L586.6 321.6L584.8 324.4L583.0 327.3Z" fill="#999" fill-opacity="0.4"/>
<path d="M583.0 316.3L655.6 221.4" stroke="#BDBDBD" stroke-width="2.9" fill="none"/>
<rect x="617.02" y="257.72" width="5.36" height="5.36" fill="#E64B35"/>
<path d="M619.50 255.05L622.92 260.98L616.08 260.98Z" fill="#E64B35"/>
<path d="M615.80 258.60H624.20M620.00 254.40V262.80" stroke="#E64B35" stroke-width="1.05" fill="none"/>
<rect x="623.32" y="258.62" width="5.36" height="5.36" fill="#4DBBD5"/>
<path d="M630.70 254.65L634.12 260.58L627.28 260.58Z" fill="#4DBBD5"/>
<path d="M626.20 260.70H634.60M630.40 256.50V264.90" stroke="#4DBBD5" stroke-width="1.05" fill="none"/>
<path d="M579.00 338.60H587.40M583.20 334.40V342.80" stroke="#00A087" stroke-width="1.05" fill="none"/>
<rect x="585.92" y="334.32" width="5.36" height="5.36" fill="#00A087"/>
<path d="M593.90 334.75L597.32 340.68L590.48 340.68Z" fill="#00A087"/>
<rect x="584.92" y="298.92" width="5.36" height="5.36" fill="#3C5488"/>
<path d="M581.90 304.10H590.30M586.10 299.90V308.30" stroke="#3C5488" stroke-width="1.05" fill="none"/>
<path d="M591.80 304.85L595.22 310.78L588.38 310.78Z" fill="#3C5488"/>
<rect x="598.32" y="267.12" width="5.36" height="5.36" fill="#8491B4"/>
<path d="M605.10 264.75L608.52 270.68L601.68 270.68Z" fill="#8491B4"/>
<path d="M600.30 271.20H608.70M604.50 267.00V275.40" stroke="#8491B4" stroke-width="1.05" fill="none"/>
<rect x="650.92" y="225.32" width="5.36" height="5.36" fill="#91D1C2"/>
<path d="M654.00 223.85L657.42 229.78L650.58 229.78Z" fill="#91D1C2"/>
<path d="M652.20 228.50H660.60M656.40 224.30V232.70" stroke="#91D1C2" stroke-width="1.05" fill="none"/>
<path d="M615.50 254.75L618.92 260.68L612.08 260.68Z" fill="#DC0000"/>
<rect x="621.62" y="257.02" width="5.36" height="5.36" fill="#DC0000"/>
<path d="M616.20 256.70H624.60M620.40 252.50V260.90" stroke="#DC0000" stroke-width="1.05" fill="none"/>
<rect x="628.62" y="249.32" width="5.36" height="5.36" fill="#7E6148"/>
<path d="M632.00 247.65L635.42 253.57L628.58 253.57Z" fill="#7E6148"/>
<path d="M628.30 251.20H636.70M632.50 247.00V255.40" stroke="#7E6148" stroke-width="1.05" fill="none"/>
<rect x="630.32" y="251.32" width="5.36" height="5.36" fill="#FFDC00"/>
<path d="M636.40 249.75L639.82 255.67L632.98 255.67Z" fill="#FFDC00"/>
<path d="M630.40 253.70H638.80M634.60 249.50V257.90" stroke="#FFDC00" stroke-width="1.05" fill="none"/>
<path class="ax" d="M541.5 210.1V352.4H676.4"/>
<path class="ax" d="M537.8 340.3H541.5M553.7 352.4V356.2M537.8 309.9H541.5M582.4 352.4V356.2M537.8 279.5H541.5M611.1 352.4V356.2M537.8 249.1H541.5M639.7 352.4V356.2M537.8 218.7H541.5M668.4 352.4V356.2"/>
<text class="tk" x="534.9" y="344" text-anchor="end">0.00</text>
<text class="tk" x="553.7" y="366" text-anchor="middle">0.00</text>
<text class="tk" x="534.9" y="313" text-anchor="end">0.25</text>
<text class="tk" x="582.4" y="366" text-anchor="middle">0.25</text>
<text class="tk" x="534.9" y="283" text-anchor="end">0.50</text>
<text class="tk" x="611.1" y="366" text-anchor="middle">0.50</text>
<text class="tk" x="534.9" y="253" text-anchor="end">0.75</text>
<text class="tk" x="639.7" y="366" text-anchor="middle">0.75</text>
<text class="tk" x="534.9" y="222" text-anchor="end">1.00</text>
<text class="tk" x="668.4" y="366" text-anchor="middle">1.00</text>
<text class="pt" x="609.0" y="202.2" text-anchor="middle">Heart_hs_mf_mm_xl_dr</text>
<text class="an" x="548.6" y="221.2"><tspan font-style="italic">y</tspan><tspan dx="-0.8"> = </tspan>−<tspan dx="0.6">0.13</tspan> <tspan font-size="7.4" dy="-0.5">+</tspan><tspan dy="0.5"> 1.3 </tspan><tspan font-style="italic">x</tspan></text>
<text class="an" x="548.6" y="239.2"><tspan font-style="italic">R</tspan><tspan font-size="6.4" dy="-4.4" dx="1.8">2</tspan><tspan font-size="6.4" dy="7.4" dx="-4.7">adj</tspan><tspan dy="-3.0" dx="0"> = 0.81</tspan></text>
<text class="an" x="647.6" y="321" text-anchor="middle">ρ = 0.93</text>
<text class="an" x="647.6" y="340" text-anchor="middle"><tspan font-style="italic">p</tspan> = 6.5e−07</text>
</g>
<text class="ti" x="358.2" y="379.2" text-anchor="middle">Integrated score</text>
<text class="ti" style="font-size:10.8px" transform="translate(9.8 187.3) rotate(-90)" text-anchor="middle">Average ARI of annotation transfer</text>
<g><!-- legend -->
<text class="ti" x="518.8" y="31.6">Homology method</text>
<rect x="520.0" y="41.1" width="7.9" height="7.7" fill="#000"/>
<text class="lg" x="533.6" y="53.6">O2O</text>
<path d="M573.3 41.2L579.0 50.3L567.6 50.3Z" fill="#000"/>
<text class="lg" style="font-size:9.95px" x="582.8" y="55.0">HE</text>
<path d="M612.8 47.2H624.2M618.5 41.5V52.9" stroke="#000" stroke-width="0.8" fill="none"/>
<text class="lg" style="font-size:9.95px" x="628.1" y="55.0">SH</text>
<text class="ti" x="518.8" y="81.1">Integration method</text>
<circle cx="522.6" cy="93.1" r="4.3" fill="#E64B35"/><text class="lg" x="532.5" y="100.6">fastMNN</text>
<circle cx="522.6" cy="109.9" r="4.3" fill="#4DBBD5"/><text class="lg" x="532.5" y="117.4">Harmony</text>
<circle cx="522.6" cy="126.8" r="4.3" fill="#00A087"/><text class="lg" x="532.5" y="134.3">LIGER</text>
<circle cx="522.6" cy="143.6" r="4.3" fill="#3C5488"/><text class="lg" x="532.5" y="151.1">LIGER UINMF</text>
<circle cx="522.6" cy="160.4" r="4.3" fill="#8491B4"/><text class="lg" x="532.5" y="167.9">Scanorama</text>
<circle cx="603.5" cy="93.1" r="4.3" fill="#91D1C2"/><text class="lg" x="613.7" y="100.6">scANVI</text>
<circle cx="603.5" cy="109.9" r="4.3" fill="#DC0000"/><text class="lg" x="613.7" y="117.4">scVI</text>
<circle cx="603.5" cy="126.8" r="4.3" fill="#7E6148"/><text class="lg" x="613.7" y="134.3">SeuratV4 CCA</text>
<circle cx="603.5" cy="143.6" r="4.3" fill="#FFDC00"/><text class="lg" x="613.7" y="151.1">SeuratV4 RPCA</text>
</g>
</svg></body></html>
